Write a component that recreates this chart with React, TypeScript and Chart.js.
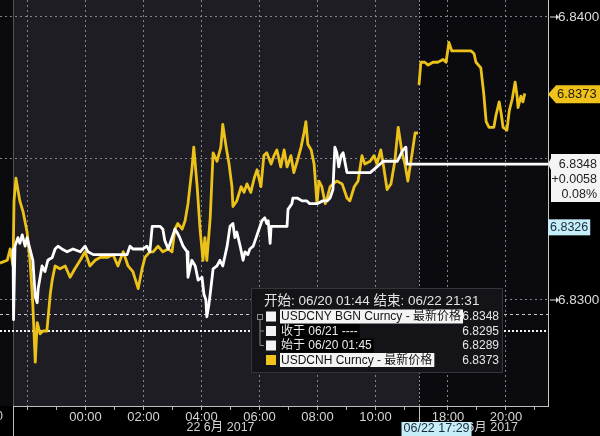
import React, { useEffect, useRef } from "react";
import { Chart, registerables } from "chart.js";

Chart.register(...registerables);

// ---------------- data ----------------
// USDCNY (white) – overnight/day session on 06/22
const cnyDayTimes = [
  "21:30", "21:31", "21:34", "21:40", "21:44", "21:49", "21:55", "21:59", "22:05", "22:11",
  "22:16", "22:20", "22:22", "22:26", "22:30", "22:36", "22:42", "22:51", "22:57", "23:03",
  "23:11", "23:22", "23:34", "23:49", "23:59", "00:05", "00:16", "00:45", "01:26", "01:32",
  "01:38", "01:47", "01:59", "02:07", "02:13", "02:18", "02:34", "02:40", "02:44", "02:51",
  "02:59", "03:05", "03:09", "03:15", "03:22", "03:30", "03:32", "03:40", "03:47", "03:53",
  "04:01", "04:05", "04:09", "04:11", "04:15", "04:20", "04:24", "04:32", "04:38", "04:44",
  "04:53", "04:59", "05:05", "05:09", "05:13", "05:20", "05:26", "05:30", "05:36", "05:40",
  "05:47", "05:53", "05:57", "06:05", "06:11", "06:15", "06:18", "06:22", "06:24", "06:49",
  "06:57", "06:59", "07:07", "07:09", "07:18", "07:28", "07:38", "07:44", "07:59", "08:11",
  "08:20", "08:26", "08:32", "08:36", "08:40", "08:44", "08:49", "08:53", "09:01", "09:34",
  "09:49", "10:03", "10:16", "10:45", "10:57", "11:03", "11:05", "11:30",
];
const cnyDayValues = [
  6.8318, 6.8293, 6.8319, 6.8322, 6.8320, 6.8323, 6.8319, 6.8322, 6.8318, 6.8314,
  6.8301, 6.8299, 6.8304, 6.8308, 6.8312, 6.8310, 6.8314, 6.8315, 6.8318, 6.8319,
  6.8318, 6.8317, 6.8318, 6.8317, 6.8319, 6.8317, 6.8316, 6.8316, 6.8316, 6.8319,
  6.8318, 6.8318, 6.8318, 6.8319, 6.8317, 6.8326, 6.8326, 6.8325, 6.8321, 6.8318,
  6.8322, 6.8325, 6.8324, 6.8322, 6.8319, 6.8317, 6.8308, 6.8314, 6.8312, 6.8307,
  6.8308, 6.8302, 6.8300, 6.8294, 6.8298, 6.8305, 6.8311, 6.8312, 6.8314, 6.8312,
  6.8319, 6.8326, 6.8327, 6.8322, 6.8324, 6.8319, 6.8314, 6.8317, 6.8316, 6.8318,
  6.8319, 6.8322, 6.8324, 6.8328, 6.8329, 6.8327, 6.8328, 6.8320, 6.8326, 6.8326,
  6.8326, 6.8332, 6.8334, 6.8336, 6.8336, 6.8335, 6.8335, 6.8334, 6.8334, 6.8335,
  6.8335, 6.8336, 6.8339, 6.8354, 6.8352, 6.8347, 6.8351, 6.8352, 6.8345, 6.8345,
  6.8345, 6.8347, 6.8349, 6.8349, 6.8353, 6.8354, 6.8348, 6.8348,
];
// USDCNY – evening (last price carried)
const cnyEveTimes = ["17:00", "21:27"];
const cnyEveValues = [6.8348, 6.8348];

// USDCNH (yellow) – overnight/day session
const cnhDayTimes = [
  "21:03", "21:18", "21:24", "21:30", "21:32", "21:36", "21:44", "21:51", "21:59", "22:05",
  "22:09", "22:11", "22:16", "22:20", "22:26", "22:32", "22:40", "22:47", "22:51", "22:57",
  "23:07", "23:18", "23:28", "23:38", "23:49", "23:59", "00:09", "00:20", "00:30", "00:45",
  "00:57", "01:07", "01:18", "01:28", "01:38", "01:49", "01:57", "02:03", "02:13", "02:20",
  "02:30", "02:40", "02:51", "02:59", "03:05", "03:11", "03:20", "03:26", "03:32", "03:40",
  "03:44", "03:51", "03:57", "04:03", "04:07", "04:11", "04:18", "04:24", "04:32", "04:40",
  "04:44", "04:51", "04:57", "05:03", "05:05", "05:13", "05:22", "05:28", "05:34", "05:42",
  "05:49", "05:55", "06:03", "06:09", "06:15", "06:24", "06:30", "06:36", "06:44", "06:51",
  "06:57", "07:05", "07:11", "07:18", "07:26", "07:32", "07:36", "07:40", "07:47", "07:53",
  "07:59", "08:03", "08:09", "08:16", "08:20", "08:26", "08:32", "08:40", "08:51", "09:01",
  "09:07", "09:16", "09:24", "09:32", "09:38", "09:49", "09:57", "10:03", "10:11", "10:16",
  "10:24", "10:32", "10:40", "10:47", "10:55", "11:01", "11:07", "11:16", "11:22", "11:28",
];
const cnhDayValues = [
  6.8313, 6.8314, 6.8318, 6.8312, 6.8335, 6.8343, 6.8335, 6.8331, 6.8324, 6.8314,
  6.8304, 6.8298, 6.8278, 6.8292, 6.8288, 6.8289, 6.8289, 6.8302, 6.8307, 6.8312,
  6.8311, 6.8312, 6.8308, 6.8311, 6.8314, 6.8317, 6.8312, 6.8314, 6.8315, 6.8315,
  6.8316, 6.8312, 6.8317, 6.8312, 6.8310, 6.8304, 6.8311, 6.8315, 6.8317, 6.8317,
  6.8319, 6.8317, 6.8318, 6.8317, 6.8325, 6.8327, 6.8325, 6.8328, 6.8334, 6.8346,
  6.8354, 6.8340, 6.8325, 6.8314, 6.8322, 6.8314, 6.8329, 6.8352, 6.8349, 6.8354,
  6.8362, 6.8354, 6.8348, 6.8340, 6.8333, 6.8335, 6.8340, 6.8338, 6.8341, 6.8338,
  6.8343, 6.8346, 6.8340, 6.8351, 6.8352, 6.8348, 6.8351, 6.8353, 6.8347, 6.8353,
  6.8347, 6.8351, 6.8345, 6.8349, 6.8354, 6.8359, 6.8363, 6.8355, 6.8353, 6.8348,
  6.8334, 6.8342, 6.8340, 6.8334, 6.8336, 6.8340, 6.8341, 6.8342, 6.8341, 6.8336,
  6.8335, 6.8340, 6.8342, 6.8351, 6.8348, 6.8349, 6.8351, 6.8348, 6.8353, 6.8348,
  6.8339, 6.8341, 6.8349, 6.8361, 6.8352, 6.8348, 6.8342, 6.8352, 6.8359, 6.8359,
];
// USDCNH – evening session
const cnhEveTimes = [
  "17:00", "17:04", "17:12", "17:19", "17:29", "17:39", "17:50", "17:56", "18:02", "18:08",
  "18:17", "18:27", "18:37", "18:48", "18:54", "18:58", "19:08", "19:14", "19:19", "19:25",
  "19:35", "19:39", "19:46", "19:50", "19:54", "20:02", "20:07", "20:13", "20:19", "20:23",
  "20:25", "20:31", "20:35", "20:39",
];
const cnhEveValues = [
  6.8376, 6.8384, 6.8384, 6.8383, 6.8384, 6.8384, 6.8385, 6.8384, 6.8391, 6.8388,
  6.8388, 6.8388, 6.8388, 6.8388, 6.8387, 6.8384, 6.8382, 6.8373, 6.8363, 6.8361,
  6.8361, 6.8365, 6.8370, 6.8366, 6.8361, 6.8360, 6.8367, 6.8371, 6.8377, 6.8372,
  6.8368, 6.8372, 6.8370, 6.8373,
];

// axis ticks
const xTickDay = ["22:00", "23:00", "00:00", "01:00", "02:00", "03:00", "04:00", "05:00",
  "06:00", "07:00", "08:00", "09:00", "10:00", "11:00"];
const xTickEve = ["18:00", "19:00", "20:00", "21:00"];
const xLabels = ["00:00", "02:00", "04:00", "06:00", "08:00", "10:00", "18:00", "20:00"];
const xGridOnly = ["22:00"];
const yTicks = [6.83, 6.835, 6.84];
const yLabeled = [6.83, 6.84];
const dateLabel = "22 6月 2017";

// legend / annotations
const legendTitle = "开始: 06/20 01:44 结束: 06/22 21:31";
const legendNames = ["USDCNY BGN Curncy - 最新价格", "收于 06/21 ----", "始于 06/20 01:45", "USDCNH Curncy - 最新价格"];
const legendValues = ["6.8348", "6.8295", "6.8289", "6.8373"];
const closeRef = 6.8295;
const openRef = 6.8289;
const lastCny = 6.8348;
const cnyChange = "+0.0058";
const cnyChangePct = "0.08%";
const lastCnh = 6.8373;
const crossValue = 6.8326;
const crossTime = "06/22 17:29";

// ---------------- helpers ----------------
const DAY_START_MIN = 21 * 60 + 30;
const DAY_HOURS = 14;
function hm(t: string) {
  const [h, m] = t.split(":").map(Number);
  return { h, m };
}
function dayPos(t: string) {
  const { h, m } = hm(t);
  let mins = h * 60 + m;
  if (h < 21) mins += 1440;
  return (mins - DAY_START_MIN) / 60;
}
function evePos(t: string) {
  const { h, m } = hm(t);
  return DAY_HOURS + (h * 60 + m - 17 * 60) / 60;
}
const X_MIN = dayPos("21:03");
const X_MAX = evePos("21:27");
const Y_MIN = 6.82625;
const Y_MAX = 6.8406;

const YELLOW = "#ecc21a";
const GRID = "rgba(150,150,160,0.85)";
const FONT = '"Liberation Sans Narrow", "Liberation Sans", Arial, "Noto Sans CJK SC", sans-serif';
const LFONT = '"Liberation Sans", Arial, "Noto Sans CJK SC", sans-serif';

const tickLabelMap = new Map<string, string>();
const gridSet = new Set<string>();
[...xTickDay.map((t) => [t, dayPos(t)] as [string, number]), ...xTickEve.map((t) => [t, evePos(t)] as [string, number])].forEach(([t, p]) => {
  const k = p.toFixed(3);
  tickLabelMap.set(k, xLabels.includes(t) ? t : "");
  if (xLabels.includes(t) || xGridOnly.includes(t)) gridSet.add(k);
});
const xTickPositions = [...xTickDay.map(dayPos), ...xTickEve.map(evePos)];

const decor = {
  id: "decor",
  beforeDraw(chart: any) {
    const { ctx, chartArea: ca, scales } = chart;
    const x = scales.x;
    const xs = x.getPixelForValue(0);
    const xe = x.getPixelForValue(DAY_HOURS);
    ctx.save();
    ctx.fillStyle = "#000";
    ctx.fillRect(0, 0, chart.width, chart.height);
    ctx.fillStyle = "#0b0b0e";
    ctx.fillRect(ca.left, ca.top, xs - ca.left, ca.bottom - ca.top);
    ctx.fillStyle = "#1d1d23";
    ctx.fillRect(xs, ca.top, xe - xs, ca.bottom - ca.top);
    ctx.fillStyle = "#0a0a0f";
    ctx.fillRect(xe, ca.top, ca.right - xe, ca.bottom - ca.top);
    ctx.restore();
  },
  beforeDatasetsDraw(chart: any) {
    const { ctx, chartArea: ca, scales } = chart;
    const { x, y } = scales;
    const xs = x.getPixelForValue(0);
    const xe = x.getPixelForValue(DAY_HOURS);
    ctx.save();
    // session divider
    ctx.strokeStyle = "rgba(170,170,175,0.8)";
    ctx.lineWidth = 1;
    ctx.setLineDash([2, 2]);
    ctx.beginPath();
    ctx.moveTo(Math.round(xe) + 0.5, ca.top);
    ctx.lineTo(Math.round(xe) + 0.5, ca.bottom);
    ctx.stroke();
    // strip boundary
    ctx.setLineDash([]);
    ctx.strokeStyle = "rgba(90,90,95,0.9)";
    ctx.beginPath();
    ctx.moveTo(Math.round(xs) + 0.5, ca.top);
    ctx.lineTo(Math.round(xs) + 0.5, ca.bottom);
    ctx.stroke();
    // close reference
    const yc = Math.round(y.getPixelForValue(closeRef)) + 0.5;
    ctx.strokeStyle = "rgba(235,235,235,0.85)";
    ctx.setLineDash([3, 3]);
    ctx.beginPath();
    ctx.moveTo(ca.left, yc);
    ctx.lineTo(ca.right, yc);
    ctx.stroke();
    // open reference
    const yo = Math.round(y.getPixelForValue(openRef));
    ctx.strokeStyle = "#f2f2f2";
    ctx.lineWidth = 2;
    ctx.setLineDash([2, 2]);
    ctx.beginPath();
    ctx.moveTo(ca.left, yo);
    ctx.lineTo(ca.right, yo);
    ctx.stroke();
    ctx.restore();
  },
  afterDraw(chart: any) {
    const { ctx, chartArea: ca, scales } = chart;
    const { x, y } = scales;
    const xs = Math.round(x.getPixelForValue(0)) + 0.5;
    const xe = Math.round(x.getPixelForValue(DAY_HOURS)) + 0.5;
    const H = chart.height;
    const W = chart.width;
    ctx.save();
    // x axis line and separators
    ctx.strokeStyle = "#bdbdbd";
    ctx.lineWidth = 1;
    ctx.beginPath();
    ctx.moveTo(xs, ca.bottom + 0.5);
    ctx.lineTo(ca.right, ca.bottom + 0.5);
    ctx.moveTo(xs, ca.bottom);
    ctx.lineTo(xs, H);
    ctx.moveTo(xe, ca.bottom);
    ctx.lineTo(xe, ca.bottom + 17);
    ctx.stroke();

    // partial clipped label at far left
    ctx.fillStyle = "#d0d0d0";
    ctx.font = `13px ${FONT}`;
    ctx.textBaseline = "middle";
    ctx.textAlign = "right";
    ctx.fillText("0", 3, ca.bottom + 10);

    // date labels
    ctx.textAlign = "center";
    ctx.font = `12.5px ${LFONT}`;
    ctx.fillText(dateLabel, (xs + xe) / 2 + 4, ca.bottom + 22);
    ctx.textAlign = "right";
    ctx.fillText(dateLabel, 518, ca.bottom + 22);

    // crosshair time label
    ctx.font = `12.5px ${FONT}`;
    const tw = ctx.measureText(crossTime).width + 4;
    const cx0 = xe - 18;
    ctx.fillStyle = "#c6eef9";
    ctx.fillRect(cx0, ca.bottom + 16, tw, H - ca.bottom - 16);
    ctx.fillStyle = "#1b2a3a";
    ctx.textAlign = "left";
    ctx.fillText(crossTime, cx0 + 2, ca.bottom + 23);

    // right axis arrows
    ctx.fillStyle = "#e0e0e0";
    yLabeled.forEach((v) => {
      const py = y.getPixelForValue(v);
      ctx.beginPath();
      ctx.moveTo(ca.right + 2, py - 0.5);
      ctx.lineTo(ca.right + 8, py - 0.5);
      ctx.lineTo(ca.right + 8, py - 3);
      ctx.lineTo(ca.right + 11, py);
      ctx.lineTo(ca.right + 8, py + 3);
      ctx.lineTo(ca.right + 8, py + 0.5);
      ctx.lineTo(ca.right + 2, py + 0.5);
      ctx.closePath();
      ctx.fill();
    });

    ctx.font = `13px ${FONT}`;
    // yellow last-price tag
    const yy = y.getPixelForValue(lastCnh) + 1;
    ctx.fillStyle = "#f0c21c";
    ctx.beginPath();
    ctx.moveTo(ca.right, yy);
    ctx.lineTo(ca.right + 8, yy - 9);
    ctx.lineTo(W, yy - 9);
    ctx.lineTo(W, yy + 9);
    ctx.lineTo(ca.right + 8, yy + 9);
    ctx.closePath();
    ctx.fill();
    ctx.fillStyle = "#1e1a08";
    ctx.textAlign = "left";
    ctx.fillText(lastCnh.toFixed(4), ca.right + 9, yy + 0.5);

    // white callout
    const yw = y.getPixelForValue(lastCny);
    ctx.fillStyle = "#f4f4f4";
    ctx.beginPath();
    ctx.moveTo(ca.right, yw);
    ctx.lineTo(ca.right + 3, yw - 6);
    ctx.lineTo(ca.right + 3, yw - 10);
    ctx.lineTo(W, yw - 10);
    ctx.lineTo(W, yw + 38);
    ctx.lineTo(ca.right + 3, yw + 38);
    ctx.lineTo(ca.right + 3, yw + 6);
    ctx.closePath();
    ctx.fill();
    ctx.fillStyle = "#222";
    ctx.textAlign = "right";
    ctx.font = `12.5px ${FONT}`;
    ctx.fillText(lastCny.toFixed(4), W - 3, yw + 0.5);
    ctx.fillText(cnyChange, W - 3, yw + 15.5);
    ctx.fillText(cnyChangePct, W - 3, yw + 30.5);

    // crosshair value label
    const yx = y.getPixelForValue(crossValue) + 1;
    ctx.font = `12.5px ${FONT}`;
    const vw = ctx.measureText(crossValue.toFixed(4)).width + 4;
    ctx.fillStyle = "#c6eef9";
    ctx.fillRect(ca.right, yx - 8, vw, 16);
    ctx.fillStyle = "#1b2a3a";
    ctx.textAlign = "left";
    ctx.fillText(crossValue.toFixed(4), ca.right + 2, yx + 0.5);

    // legend box
    const bx = 251, by = 288, bw = 252, bh = 85;
    ctx.fillStyle = "#141418";
    ctx.fillRect(bx, by, bw, bh);
    ctx.strokeStyle = "#34343a";
    ctx.lineWidth = 1;
    ctx.strokeRect(bx + 0.5, by + 0.5, bw - 1, bh - 1);
    ctx.font = `13.5px ${LFONT}`;
    ctx.fillStyle = "#e2e2e2";
    ctx.textAlign = "left";
    ctx.fillText(legendTitle, 264, 301);
    const rowY = [316.5, 331, 345.5, 360];
    // tree connector
    ctx.strokeStyle = "#8a8a8a";
    ctx.strokeRect(257.5, 314.5, 5, 5);
    ctx.beginPath();
    ctx.moveTo(260, 320);
    ctx.lineTo(260, rowY[2]);
    ctx.moveTo(260, rowY[1]);
    ctx.lineTo(264, rowY[1]);
    ctx.moveTo(260, rowY[2]);
    ctx.lineTo(264, rowY[2]);
    ctx.stroke();
    ctx.font = `12px ${LFONT}`;
    legendNames.forEach((name, i) => {
      const ry = rowY[i];
      ctx.fillStyle = i === 3 ? "#f0c21c" : "#f4f4f4";
      ctx.fillRect(266, ry - 5, 10, 10);
      const w = ctx.measureText(name).width + 3;
      const highlighted = i === 0 || i === 3;
      ctx.fillStyle = highlighted ? "#f4f4f4" : "#000";
      ctx.fillRect(280, ry - 7, w, 14);
      ctx.fillStyle = highlighted ? "#111" : "#eaeaea";
      ctx.textAlign = "left";
      ctx.fillText(name, 281, ry + 0.5);
      ctx.fillStyle = "#e6e6e6";
      ctx.textAlign = "right";
      ctx.fillText(legendValues[i], 499, ry + 0.5);
    });
    ctx.restore();
  },
};

export default function App() {
  const ref = useRef<HTMLCanvasElement>(null);
  useEffect(() => {
    document.body.style.margin = "0";
    document.body.style.background = "#000";
    const canvas = ref.current;
    if (!canvas) return;
    const cnyData = [
      ...cnyDayTimes.map((t, i) => ({ x: dayPos(t), y: cnyDayValues[i] })),
      ...cnyEveTimes.map((t, i) => ({ x: evePos(t), y: cnyEveValues[i] })),
    ];
    const cnhDay = cnhDayTimes.map((t, i) => ({ x: dayPos(t), y: cnhDayValues[i] }));
    const cnhEve = cnhEveTimes.map((t, i) => ({ x: evePos(t), y: cnhEveValues[i] }));
    const lineStyle = { borderWidth: 2.8, pointRadius: 0, tension: 0, fill: false, borderJoinStyle: "round" as const };
    const chart = new Chart(canvas, {
      type: "line",
      data: {
        datasets: [
          { label: "USDCNY", data: cnyData, borderColor: "#ffffff", ...lineStyle },
          { label: "USDCNH", data: cnhDay, borderColor: YELLOW, ...lineStyle },
          { label: "USDCNH eve", data: cnhEve, borderColor: YELLOW, ...lineStyle },
        ],
      },
      options: {
        responsive: false,
        animation: false,
        events: [],
        layout: { padding: 0 },
        plugins: { legend: { display: false }, tooltip: { enabled: false } },
        scales: {
          x: {
            type: "linear",
            min: X_MIN,
            max: X_MAX,
            afterBuildTicks: (s: any) => {
              s.ticks = xTickPositions.map((v) => ({ value: v }));
            },
            afterFit: (s: any) => {
              s.height = 30;
              s.paddingLeft = 0;
              s.paddingRight = 0;
            },
            ticks: {
              autoSkip: false,
              maxRotation: 0,
              padding: 0,
              color: "#d4d4d4",
              font: { family: FONT, size: 13 },
              callback: (v: any) => tickLabelMap.get(Number(v).toFixed(3)) ?? "",
            },
            grid: {
              color: (c: any) => (c.tick && gridSet.has(Number(c.tick.value).toFixed(3)) ? GRID : "rgba(0,0,0,0)"),
              tickColor: "#b5b5b5",
              tickLength: 4,
              lineWidth: 1,
            },
            border: { display: false, dash: [2, 3] },
          },
          y: {
            type: "linear",
            position: "right",
            min: Y_MIN,
            max: Y_MAX,
            afterBuildTicks: (s: any) => {
              s.ticks = yTicks.map((v) => ({ value: v }));
            },
            afterFit: (s: any) => {
              s.width = 52;
              s.paddingTop = 0;
              s.paddingBottom = 0;
            },
            ticks: {
              padding: 10,
              color: "#dcdcdc",
              font: { family: FONT, size: 13.5 },
              callback: (v: any) => (yLabeled.some((l) => Math.abs(l - Number(v)) < 1e-6) ? Number(v).toFixed(4) : ""),
            },
            grid: { color: GRID, drawTicks: false, lineWidth: 1 },
            border: { display: true, color: "#c8c8c8", width: 1, dash: [2, 3] },
          },
        },
      },
      plugins: [decor],
    });
    return () => chart.destroy();
  }, []);
  return (
    <div style={{ position: "absolute", left: 0, top: 0, width: 600, height: 436, background: "#000" }}>
      <canvas ref={ref} width={600} height={436} style={{ display: "block", width: 600, height: 436 }} />
    </div>
  );
}
